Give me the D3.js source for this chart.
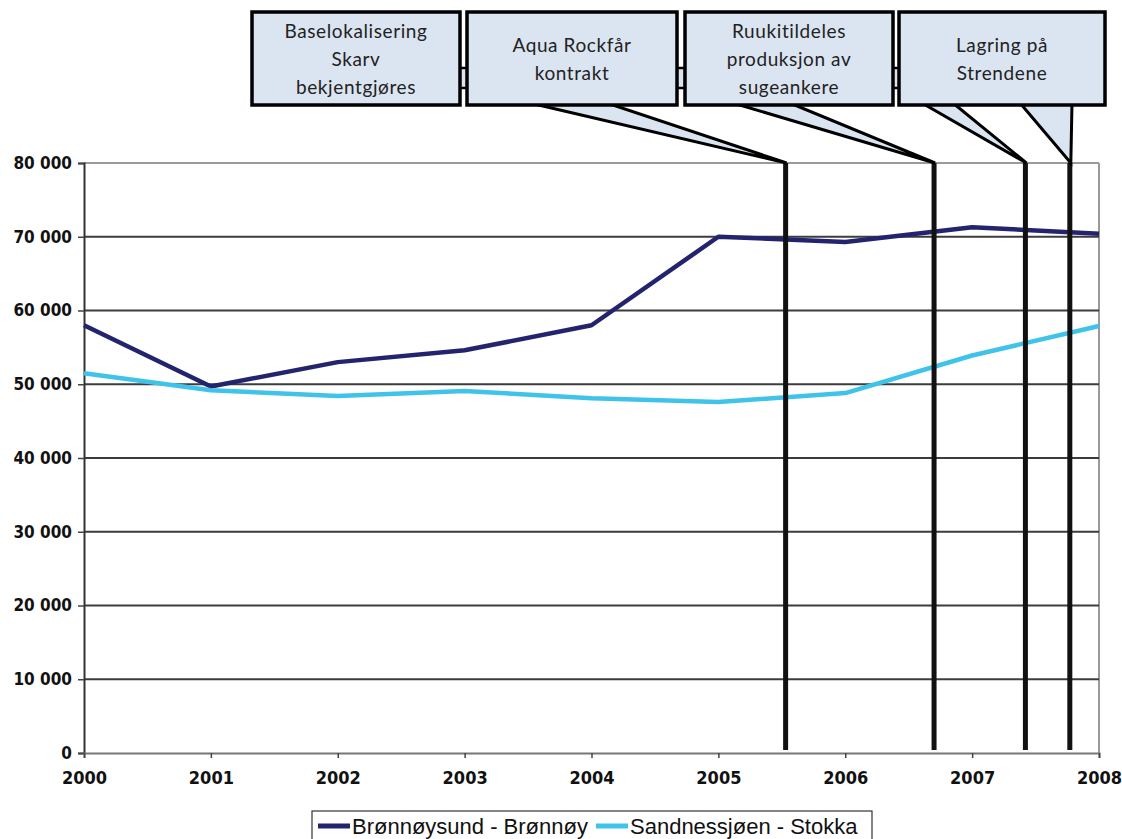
<!DOCTYPE html>
<html><head><meta charset="utf-8">
<script src="https://cdn.jsdelivr.net/npm/d3@7"></script>
<style>html,body{margin:0;padding:0;background:#fff;}svg{display:block;}</style>
</head><body>
<svg id="chart" width="1122" height="839"></svg>
<script>
const years = [2000, 2001, 2002, 2003, 2004, 2005, 2006, 2007, 2008];
const bronnoy = [58000, 49700, 53000, 54600, 58000, 70000, 69300, 71300, 70400];
const sandnessjoen = [51500, 49200, 48400, 49100, 48100, 47600, 48800, 53900, 57900];
const seriesNames = ["Brønnøysund - Brønnøy", "Sandnessjøen - Stokka"];
const seriesColors = ["#23236e", "#3fc3e9"];
const yTicks = [0, 10000, 20000, 30000, 40000, 50000, 60000, 70000, 80000];
const xTicks = [2000, 2001, 2002, 2003, 2004, 2005, 2006, 2007, 2008];
const eventDates = [2005.53, 2006.70, 2007.42, 2007.77];
const calloutTexts = [
  ["Baselokalisering", "Skarv", "bekjentgjøres"],
  ["Aqua Rockfår", "kontrakt"],
  ["Ruukitildeles", "produksjon av", "sugeankere"],
  ["Lagring på", "Strendene"]
];

const svg = d3.select("#chart");
const x = d3.scaleLinear().domain([2000, 2008]).range([84, 1099]);
const y = d3.scaleLinear().domain([0, 80000]).range([753, 163]);
const fmt = d3.formatLocale({thousands: " ", grouping: [3], decimal: ",", currency: ["", ""]}).format(",");
const axisFont = "'DejaVu Sans Condensed', 'DejaVu Sans', sans-serif";
const boxFill = "#dbe5f1";

// plot border (top & right light gray)
svg.append("line").attr("x1", x(2000)).attr("x2", x(2008)).attr("y1", y(80000)).attr("y2", y(80000))
  .attr("stroke", "#9a9a9a").attr("stroke-width", 2);
svg.append("line").attr("x1", x(2008)).attr("x2", x(2008)).attr("y1", y(80000)).attr("y2", y(0))
  .attr("stroke", "#9a9a9a").attr("stroke-width", 2);

// gridlines
svg.append("g").selectAll("line").data(yTicks.filter(d => d > 0 && d < 80000)).join("line")
  .attr("x1", x(2000)).attr("x2", x(2008))
  .attr("y1", d => y(d)).attr("y2", d => y(d))
  .attr("stroke", "#3c3c3c").attr("stroke-width", 2.2);

// y axis
const yAxis = d3.axisLeft(y).tickValues(yTicks).tickFormat(fmt).tickSize(6).tickPadding(6);
const gy = svg.append("g").attr("transform", `translate(${x(2000)},0)`).call(yAxis);
gy.select(".domain").attr("stroke", "#333").attr("stroke-width", 2);
gy.selectAll(".tick line").attr("stroke", "#444").attr("stroke-width", 1.5);
gy.selectAll(".tick text").attr("font-family", axisFont).attr("font-stretch", "condensed")
  .attr("font-weight", "bold").attr("font-size", 17).attr("fill", "#111");

// x axis
const xAxis = d3.axisBottom(x).tickValues(xTicks).tickFormat(d3.format("d")).tickSize(5).tickPadding(13);
const gx = svg.append("g").attr("transform", `translate(0,${y(0)})`).call(xAxis);
gx.select(".domain").attr("stroke", "#777").attr("stroke-width", 2);
gx.selectAll(".tick line").attr("stroke", "#444").attr("stroke-width", 1.5);
gx.selectAll(".tick text").attr("font-family", axisFont).attr("font-stretch", "condensed")
  .attr("font-weight", "bold").attr("font-size", 18).attr("fill", "#111");

// series lines
const line = d3.line().x((d, i) => x(years[i])).y(d => y(d));
[bronnoy, sandnessjoen].forEach((s, k) => {
  svg.append("path").datum(s).attr("d", line).attr("fill", "none")
    .attr("stroke", seriesColors[k]).attr("stroke-width", 4.5).attr("stroke-linejoin", "round");
});

// event vertical lines
svg.append("g").selectAll("line").data(eventDates).join("line")
  .attr("x1", d => x(d)).attr("x2", d => x(d))
  .attr("y1", y(80000)).attr("y2", y(0) - 3)
  .attr("stroke", "#111").attr("stroke-width", 5);

// callout boxes
const boxes = [
  {x0: 252, x1: 460}, {x0: 467, x1: 677}, {x0: 685, x1: 893}, {x0: 899, x1: 1105}
];
const boxTop = 12, boxBot = 105;
const tipY = y(80000);

// pointers (drawn before boxes)
const pointers = [
  [[530, boxBot - 2], [607, boxBot - 2], [x(eventDates[0]) + 1, tipY]],
  [[733, boxBot - 2], [790, boxBot - 2], [x(eventDates[1]) + 1, tipY]],
  [[922, boxBot - 2], [953, boxBot - 2], [x(eventDates[2]) + 1, tipY]],
  [[1020, boxBot - 2], [1072, boxBot - 2], [x(eventDates[3]) + 1, tipY]]
];
svg.append("g").selectAll("path").data(pointers).join("path")
  .attr("d", d => d3.line()(d) + "Z")
  .attr("fill", boxFill).attr("stroke", "#000").attr("stroke-width", 3).attr("stroke-linejoin", "miter");

// small connector tabs between boxes
svg.append("g").selectAll("rect").data(boxes.slice(0, 3)).join("rect")
  .attr("x", d => d.x1 - 2).attr("y", 68).attr("width", 10).attr("height", 20)
  .attr("fill", boxFill).attr("stroke", "#000").attr("stroke-width", 2.5);

const bg = svg.append("g").selectAll("g").data(boxes).join("g");
bg.append("rect").attr("x", d => d.x0).attr("y", boxTop)
  .attr("width", d => d.x1 - d.x0).attr("height", boxBot - boxTop)
  .attr("fill", boxFill).attr("stroke", "#000").attr("stroke-width", 3.5);

bg.each(function(d, i) {
  const lines = calloutTexts[i];
  const cx = (d.x0 + d.x1) / 2;
  const lh = 28;
  const startY = (boxTop + boxBot) / 2 - (lines.length - 1) * lh / 2 + 7;
  d3.select(this).selectAll("text").data(lines).join("text")
    .attr("x", cx).attr("y", (t, j) => startY + j * lh)
    .attr("text-anchor", "middle")
    .attr("font-family", "Lato, 'Open Sans', sans-serif")
    .attr("font-size", 19).attr("letter-spacing", 0.6).attr("fill", "#222")
    .text(t => t);
});

// legend
const lg = svg.append("g");
lg.append("rect").attr("x", 312).attr("y", 811).attr("width", 560).attr("height", 40)
  .attr("fill", "#fff").attr("stroke", "#333").attr("stroke-width", 1.2);
const legendX = [318, 596];
seriesNames.forEach((name, k) => {
  lg.append("line").attr("x1", legendX[k]).attr("x2", legendX[k] + 32)
    .attr("y1", 826).attr("y2", 826).attr("stroke", seriesColors[k]).attr("stroke-width", 5);
  lg.append("text").attr("x", legendX[k] + 34).attr("y", 834)
    .attr("font-family", "'Liberation Sans', Arial, sans-serif").attr("font-size", 22)
    .attr("fill", "#111").text(name);
});
</script>
</body></html>
